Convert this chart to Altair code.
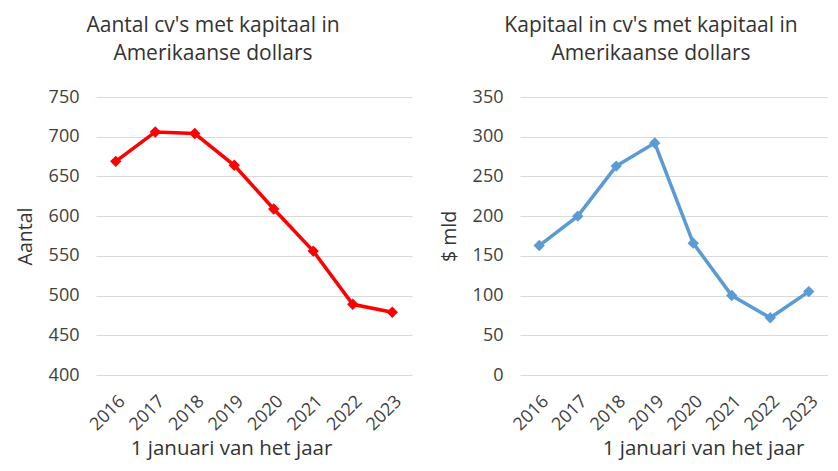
import altair as alt
import pandas as pd

years = ["2016", "2017", "2018", "2019", "2020", "2021", "2022", "2023"]
aantal = [669, 706, 704, 664, 609, 556, 489, 479]
kapitaal = [163, 200, 263, 292, 166, 100, 72, 105]

df1 = pd.DataFrame({"jaar": years, "waarde": aantal})
df2 = pd.DataFrame({"jaar": years, "waarde": kapitaal})

FONT = "Open Sans"
LABEL_COLOR = "#404040"
TITLE_COLOR = "#333333"


def panel(df, color, title, ytitle, ydomain, yvalues, title_x, title_dx, width):
    x = alt.X(
        "jaar:N",
        sort=years,
        scale=alt.Scale(paddingInner=0, paddingOuter=0.5),
        axis=alt.Axis(
            title="1 januari van het jaar",
            labelAngle=-45,
            labelPadding=17,
            ticks=False,
            tickSize=0,
            domain=False,
            grid=False,
            titleX=title_x,
            titleY=79,
            titleBaseline="alphabetic",
        ),
    )
    y = alt.Y(
        "waarde:Q",
        scale=alt.Scale(domain=ydomain, nice=False, zero=False),
        axis=alt.Axis(
            title=ytitle,
            values=yvalues,
            ticks=False,
            tickSize=0,
            domain=False,
            labelPadding=17,
            titlePadding=13,
            gridColor="#d9d9d9",
            gridWidth=1,
        ),
    )
    base = alt.Chart(df)
    line = base.mark_line(color=color, strokeWidth=3.5).encode(x=x, y=y)
    pts = base.mark_point(shape="diamond", filled=True, color=color, size=130, opacity=1).encode(x=x, y=y)
    return (line + pts).properties(
        width=width,
        height=278,
        title=alt.TitleParams(
            text=title,
            fontSize=21,
            font=FONT,
            fontWeight="normal",
            color=TITLE_COLOR,
            lineHeight=28,
            anchor="middle",
            offset=24,
            dx=title_dx,
        ),
    )


left = panel(
    df1, "#ff0000",
    ["Aantal cv's met kapitaal in", "Amerikaanse dollars"],
    "Aantal", [400, 750], [400, 450, 500, 550, 600, 650, 700, 750], 135, -41, 316,
)
right = panel(
    df2, "#5b9bd5",
    ["Kapitaal in cv's met kapitaal in", "Amerikaanse dollars"],
    "$ mld", [0, 350], [0, 50, 100, 150, 200, 250, 300, 350], 183, -23, 308,
)

chart = (
    alt.hconcat(left, right, spacing=27)
    .properties(padding={"left": 7, "top": 7, "right": 0, "bottom": 1}, background="white")
    .configure_view(stroke=None)
    .configure_axis(
        labelFont=FONT,
        labelFontSize=18,
        labelColor=LABEL_COLOR,
        titleFont=FONT,
        titleFontSize=20.5,
        titleFontWeight="normal",
        titleColor=TITLE_COLOR,
    )
    .configure_axisY(titleFontSize=19.5)
)

chart.save("out.html", embed_options={"renderer": "svg", "actions": False})
